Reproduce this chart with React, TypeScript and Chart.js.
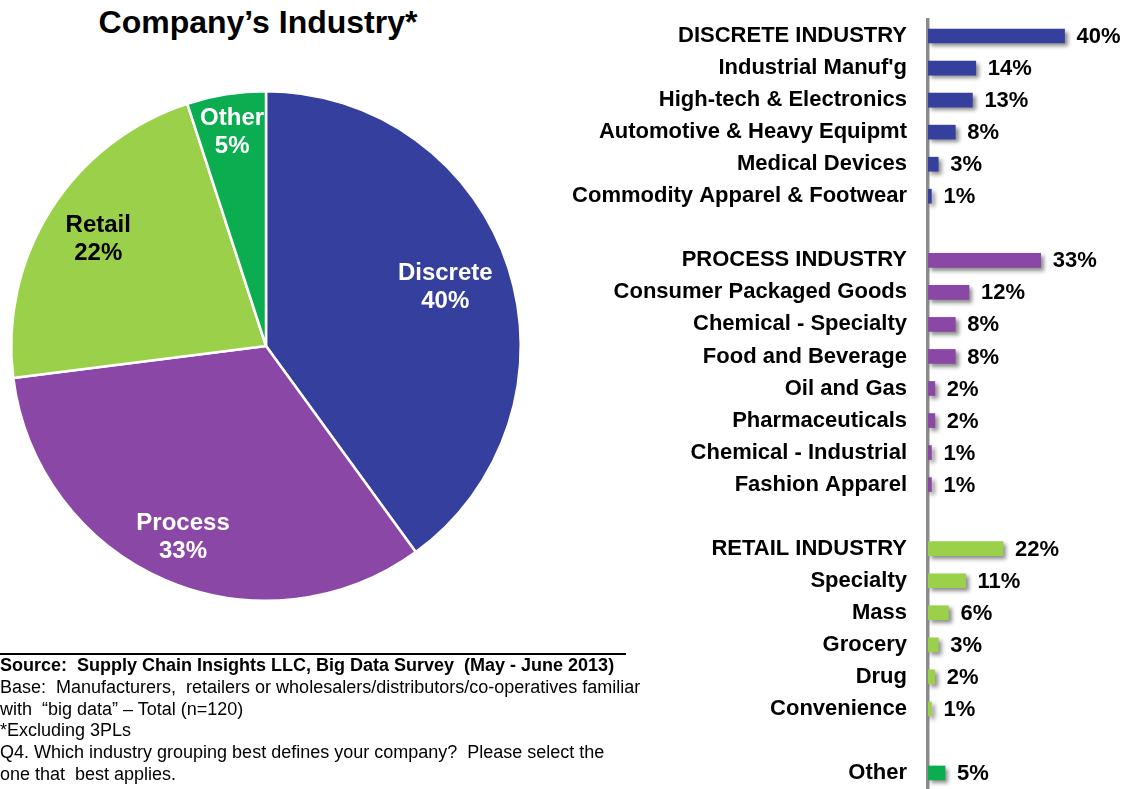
import React, { useEffect, useRef } from "react";
import { Chart, registerables } from "chart.js";

Chart.register(...registerables);

// ---------- Data ----------
const pieLabels = ["Discrete", "Process", "Retail", "Other"];
const pieValues = [40, 33, 22, 5];
const pieColors = ["#353F9D", "#8B47A5", "#9BD14A", "#0BAD50"];
const pieTextColors = ["#FFFFFF", "#FFFFFF", "#000000", "#FFFFFF"];

const discreteLabels = [
  "DISCRETE INDUSTRY",
  "Industrial Manuf'g",
  "High-tech & Electronics",
  "Automotive & Heavy Equipmt",
  "Medical Devices",
  "Commodity Apparel & Footwear",
];
const discreteValues = [40, 14, 13, 8, 3, 1];

const processLabels = [
  "PROCESS INDUSTRY",
  "Consumer Packaged Goods",
  "Chemical - Specialty",
  "Food and Beverage",
  "Oil and Gas",
  "Pharmaceuticals",
  "Chemical - Industrial",
  "Fashion Apparel",
];
const processValues = [33, 12, 8, 8, 2, 2, 1, 1];

const retailLabels = ["RETAIL INDUSTRY", "Specialty", "Mass", "Grocery", "Drug", "Convenience"];
const retailValues = [22, 11, 6, 3, 2, 1];

const otherLabels = ["Other"];
const otherValues = [5];

// ---------- Build rows (with blank spacer rows between groups) ----------
const groups = [
  { labels: discreteLabels, values: discreteValues, color: pieColors[0] },
  { labels: processLabels, values: processValues, color: pieColors[1] },
  { labels: retailLabels, values: retailValues, color: pieColors[2] },
  { labels: otherLabels, values: otherValues, color: pieColors[3] },
];
const rowLabels: string[] = [];
const rowValues: (number | null)[] = [];
const rowColors: string[] = [];
groups.forEach((g, gi) => {
  g.labels.forEach((l, i) => {
    rowLabels.push(l);
    rowValues.push(g.values[i]);
    rowColors.push(g.color);
  });
  if (gi < groups.length - 1) {
    rowLabels.push("");
    rowValues.push(null);
    rowColors.push("rgba(0,0,0,0)");
  }
});

const FONT = '"Liberation Sans", Arial, sans-serif';
const labelRadiusFactor = [0.74, 0.82, 0.78, 0.85];

const pieLabelPlugin = {
  id: "pieLabels",
  afterDatasetsDraw(chart: any) {
    const ctx = chart.ctx;
    const meta = chart.getDatasetMeta(0);
    ctx.save();
    ctx.font = `bold 24px ${FONT}`;
    ctx.textAlign = "center";
    ctx.textBaseline = "middle";
    meta.data.forEach((arc: any, i: number) => {
      const p = arc.getProps(["x", "y", "startAngle", "endAngle", "outerRadius"], true);
      const mid = (p.startAngle + p.endAngle) / 2;
      const r = p.outerRadius * labelRadiusFactor[i];
      const x = p.x + Math.cos(mid) * r;
      const y = p.y + Math.sin(mid) * r;
      ctx.fillStyle = pieTextColors[i];
      ctx.fillText(pieLabels[i], x, y - 14);
      ctx.fillText(`${pieValues[i]}%`, x, y + 14);
    });
    ctx.restore();
  },
};

const barPlugin = {
  id: "barShadowLabels",
  beforeDatasetsDraw(chart: any) {
    const ctx = chart.ctx;
    ctx.save();
    ctx.shadowColor = "rgba(0,0,0,0.45)";
    ctx.shadowBlur = 4;
    ctx.shadowOffsetX = 3;
    ctx.shadowOffsetY = 3;
  },
  afterDatasetsDraw(chart: any) {
    const ctx = chart.ctx;
    ctx.restore();
    const meta = chart.getDatasetMeta(0);
    ctx.save();
    ctx.font = `bold 22px ${FONT}`;
    ctx.fillStyle = "#000";
    ctx.textAlign = "left";
    ctx.textBaseline = "middle";
    meta.data.forEach((bar: any, i: number) => {
      const v = rowValues[i];
      if (v === null || v === undefined) return;
      ctx.fillText(`${v}%`, bar.x + 12, bar.y + 1);
    });
    ctx.restore();
  },
};

function PieChart() {
  const ref = useRef<HTMLCanvasElement>(null);
  useEffect(() => {
    const chart = new Chart(ref.current!, {
      type: "pie",
      data: {
        labels: pieLabels,
        datasets: [
          {
            data: pieValues,
            backgroundColor: pieColors,
            borderColor: "#FFFFFF",
            borderWidth: 2.5,
            hoverOffset: 0,
            offset: 0,
          },
        ],
      },
      options: {
        animation: false,
        responsive: false,
        layout: { padding: 10 },
        plugins: { legend: { display: false }, tooltip: { enabled: false } },
      },
      plugins: [pieLabelPlugin],
    });
    return () => chart.destroy();
  }, []);
  return (
    <canvas
      ref={ref}
      width={532}
      height={532}
      style={{ position: "absolute", left: 0, top: 80, width: 532, height: 532 }}
    />
  );
}

function BarChart() {
  const ref = useRef<HTMLCanvasElement>(null);
  useEffect(() => {
    const chart = new Chart(ref.current!, {
      type: "bar",
      data: {
        labels: rowLabels,
        datasets: [
          {
            data: rowValues,
            backgroundColor: rowColors,
            borderWidth: 0,
            barThickness: 14,
          },
        ],
      },
      options: {
        animation: false,
        responsive: false,
        indexAxis: "y",
        layout: { padding: { top: 20, bottom: 0, left: 0, right: 0 } },
        plugins: { legend: { display: false }, tooltip: { enabled: false } },
        scales: {
          x: { display: false, min: 0, max: 58 },
          y: {
            grid: { display: false, drawTicks: false },
            border: { display: true, color: "#8C8C8C", width: 3.5 },
            ticks: {
              padding: 21,
              autoSkip: false,
              color: "#000",
              font: { family: FONT, size: 22, weight: "bold" },
            },
            afterFit(scale: any) {
              scale.width = 368;
              scale.paddingTop = 0;
              scale.paddingBottom = 0;
            },
          },
        },
      },
      plugins: [barPlugin],
    });
    return () => chart.destroy();
  }, []);
  return (
    <canvas
      ref={ref}
      width={566}
      height={789}
      style={{ position: "absolute", left: 560, top: 0, width: 566, height: 789 }}
    />
  );
}

export default function App() {
  return (
    <div
      style={{
        position: "absolute",
        left: 0,
        top: 0,
        width: 1126,
        height: 789,
        overflow: "hidden",
        background: "#fff",
        fontFamily: FONT,
      }}
    >
      <div
        style={{
          position: "absolute",
          left: 0,
          top: 2,
          width: 516,
          textAlign: "center",
          fontWeight: "bold",
          fontSize: 32,
          lineHeight: "40px",
          color: "#000",
        }}
      >
        Company’s Industry*
      </div>
      <PieChart />
      <BarChart />
      <div
        style={{
          position: "absolute",
          left: 0,
          top: 653,
          width: 626,
          borderTop: "2px solid #000",
          fontSize: 18,
          lineHeight: "21.8px",
          color: "#000",
          whiteSpace: "nowrap",
        }}
      >
        <div style={{ fontWeight: "bold" }}>
          Source:&nbsp; Supply Chain Insights LLC, Big Data Survey&nbsp; (May - June 2013)
        </div>
        <div>Base:&nbsp; Manufacturers,&nbsp; retailers or wholesalers/distributors/co-operatives familiar</div>
        <div>with &nbsp;“big data” – Total (n=120)</div>
        <div>*Excluding 3PLs</div>
        <div>Q4. Which industry grouping best defines your company?&nbsp; Please select the</div>
        <div>one that&nbsp; best applies.</div>
      </div>
    </div>
  );
}
